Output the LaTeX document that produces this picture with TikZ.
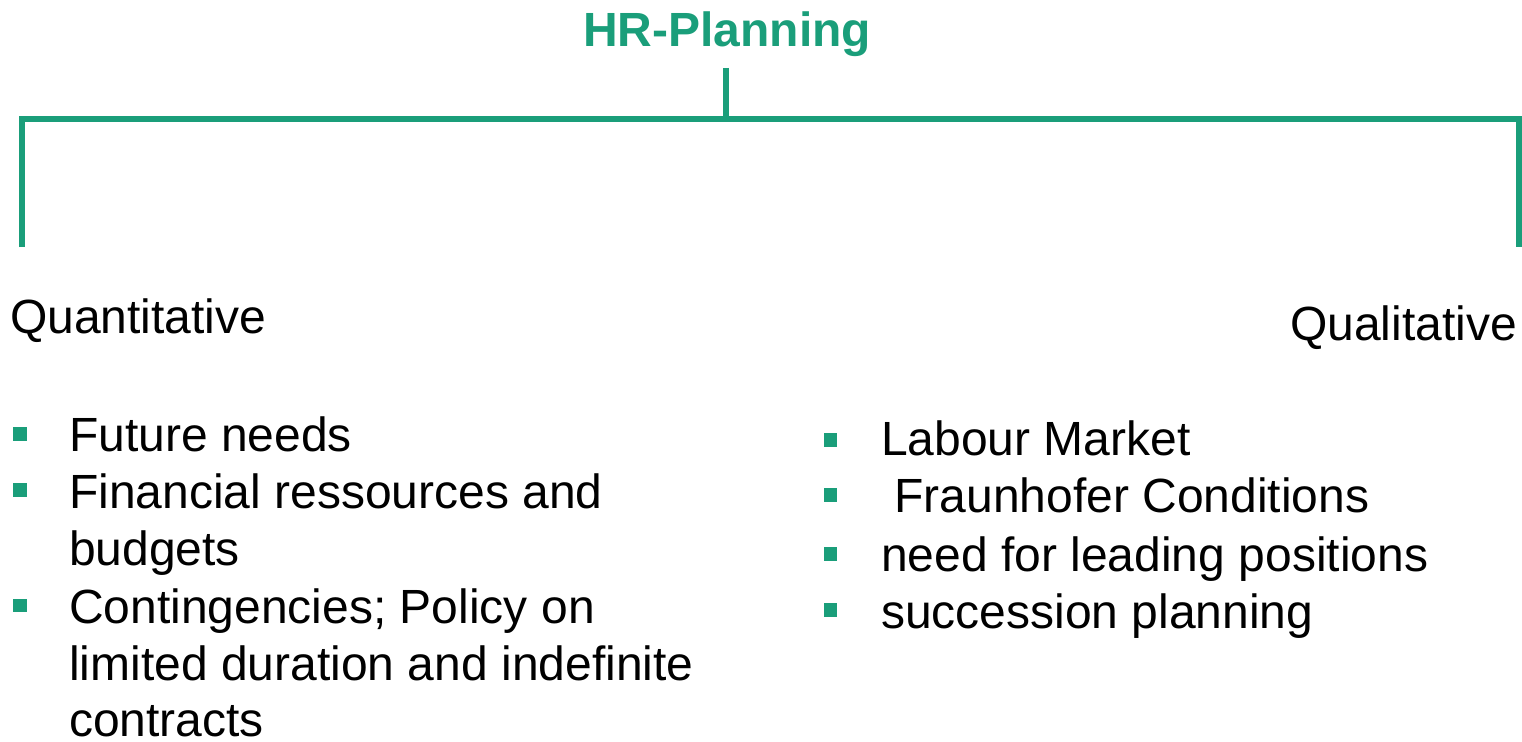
\documentclass[tikz,border=0pt]{standalone}
\usepackage{fontspec}
\setmainfont{Liberation Sans}
\definecolor{hrgreen}{RGB}{26,158,122}
\begin{document}
\begin{tikzpicture}[x=1pt,y=-1pt,
  branch/.style={draw=hrgreen,line width=6pt,line join=miter},
  titletext/.style={inner sep=0pt,anchor=base,text=hrgreen,font=\fontsize{48}{57.6}\selectfont\bfseries},
  bodytext/.style={inner sep=0pt,anchor=base west,text=black,font=\fontsize{48}{57.6}\selectfont},
  sqbullet/.style={fill=hrgreen,draw=none,inner sep=0pt,minimum size=13.5pt,shape=rectangle}]
\useasboundingbox (0,0) rectangle (1522,741);

% title and the bracket below it
\node[titletext] (title) at (727,47) {HR-Planning};
\coordinate (stem) at (726,68);
\coordinate (join) at (726,119);
\coordinate (lcorner) at (22,119);
\coordinate (rcorner) at (1519,119);
\coordinate (lend) at (22,247);
\coordinate (rend) at (1519,247);
\draw[branch] (lend) -- (lcorner) -- (rcorner) -- (rend);
\draw[branch] (stem) -- (join);

% column headings
\node[bodytext] (quant) at (10,333) {Quantitative};
\node[bodytext] (qual) at (1290,340) {Qualitative};

% quantitative items
\node[sqbullet] (qb1) at (20,434) {};
\node[bodytext] (q1) at (69,451) {Future needs};
\node[sqbullet] (qb2) at (20,490) {};
\node[bodytext] (q2) at (69,508) {Financial ressources and};
\node[bodytext] (q2b) at (69,565.5) {budgets};
\node[sqbullet] (qb3) at (20,605.5) {};
\node[bodytext] (q3) at (69,623) {Contingencies; Policy on};
\node[bodytext] (q3b) at (69,680) {limited duration and indefinite};
\node[bodytext] (q3c) at (69,736) {contracts};

% qualitative items
\node[sqbullet] (lb1) at (830.5,440) {};
\node[bodytext] (l1) at (881,455) {Labour Market};
\node[sqbullet] (lb2) at (830.5,495) {};
\node[bodytext] (l2) at (881,512.5) {\ Fraunhofer Conditions};
\node[sqbullet] (lb3) at (830.5,554) {};
\node[bodytext] (l3) at (881,571) {need for leading positions};
\node[sqbullet] (lb4) at (830.5,610) {};
\node[bodytext] (l4) at (881,628) {succession planning};
\end{tikzpicture}
\end{document}
